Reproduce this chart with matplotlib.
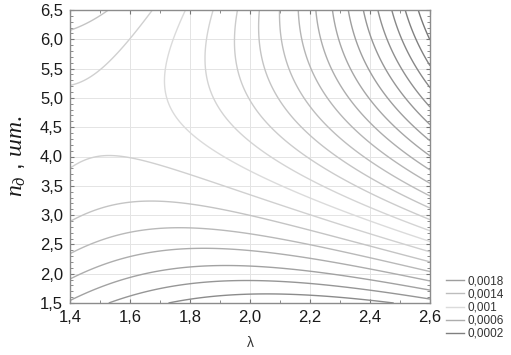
import numpy as np
import matplotlib
matplotlib.use("Agg")
import matplotlib.pyplot as plt
from matplotlib.ticker import MultipleLocator, FuncFormatter
from matplotlib.lines import Line2D

# Response surface z(lambda, n) in units of 1e-4, cubic polynomial coefficients
# order: 1, l, n, l^2, l*n, n^2, l^3, l^2*n, l*n^2, n^3
surface_coef = [23.4692, -23.7024, 2.5044, 4.6715, 0.5152, -0.5018,
                -0.0712, 0.6825, -0.0343, 0.0064]
lambda_range = [1.4, 2.6]
n_range = [1.5, 6.5]
contour_levels = [k * 0.0001 for k in range(1, 30)]
legend_levels = [0.0018, 0.0014, 0.001, 0.0006, 0.0002]
legend_labels = ["0,0018", "0,0014", "0,001", "0,0006", "0,0002"]
x_ticks = [1.4, 1.6, 1.8, 2.0, 2.2, 2.4, 2.6]
y_ticks = [1.5, 2.0, 2.5, 3.0, 3.5, 4.0, 4.5, 5.0, 5.5, 6.0, 6.5]

plt.rcParams['font.family'] = ['Liberation Sans', 'DejaVu Sans']
plt.rcParams['mathtext.fontset'] = 'custom'
plt.rcParams['mathtext.it'] = 'Liberation Serif:italic'
plt.rcParams['mathtext.rm'] = 'Liberation Serif'


def surface(l, n):
    b = [np.ones_like(l), l, n, l*l, l*n, n*n, l**3, l*l*n, l*n*n, n**3]
    return sum(c * t for c, t in zip(surface_coef, b)) * 1e-4


def level_color(v):
    k = v / 0.0001
    if k >= 10:
        g = 0.86 - (k - 10) * 0.03
    else:
        g = 0.86 - (10 - k) * 0.045
    g = min(max(g, 0.3), 0.9)
    return (g, g, g)


fig = plt.figure(figsize=(5.11, 3.55), dpi=100)
ax = fig.add_axes([70/511, 1-303/355, 360/511, 293/355])

lam = np.linspace(lambda_range[0], lambda_range[1], 400)
nn = np.linspace(n_range[0], n_range[1], 400)
LL, NN = np.meshgrid(lam, nn)
Z = surface(LL, NN)
ax.contour(LL, NN, Z, levels=contour_levels,
           colors=[level_color(v) for v in contour_levels], linewidths=1.0)

ax.set_xlim(*lambda_range)
ax.set_ylim(*n_range)
ax.set_xticks(x_ticks)
ax.set_yticks(y_ticks)
ax.xaxis.set_minor_locator(MultipleLocator(0.1))
ax.yaxis.set_minor_locator(MultipleLocator(0.1))
fmt = FuncFormatter(lambda v, p: f"{v:.1f}".replace('.', ','))
ax.xaxis.set_major_formatter(fmt)
ax.yaxis.set_major_formatter(fmt)
ax.tick_params(which='both', direction='in', top=True, right=True,
               color='#777777', labelsize=12, labelcolor='#1a1a1a')
ax.tick_params(which='major', length=3, width=0.8)
ax.tick_params(axis='x', which='major', pad=5)
ax.tick_params(axis='y', which='major', pad=5)
ax.tick_params(which='minor', length=2, width=0.6)
ax.grid(True, which='major', color='#e4e4e4', linewidth=0.7)
ax.set_axisbelow(True)
for s in ax.spines.values():
    s.set_color('#8c8c8c')
    s.set_linewidth(1.0)

fig.text(250/511, 1-343/355, 'λ', fontsize=10, ha='center', va='center',
         color='#333333')
fig.text(17/511, 1-156/355, r'$n_д$ , $шт.$', fontsize=17, rotation=90,
         ha='center', va='center', color='#1a1a1a')

handles = [Line2D([], [], color=level_color(v), lw=1.0) for v in legend_levels]
leg = fig.legend(handles, legend_labels, loc='lower left',
                 bbox_to_anchor=(446/511, 1-340/355), frameon=False,
                 fontsize=8.5, handlelength=1.5, handletextpad=0.35,
                 labelspacing=0.1, borderpad=0.0, borderaxespad=0.0)
for t in leg.get_texts():
    t.set_color('#333333')

fig.savefig('out.png')
